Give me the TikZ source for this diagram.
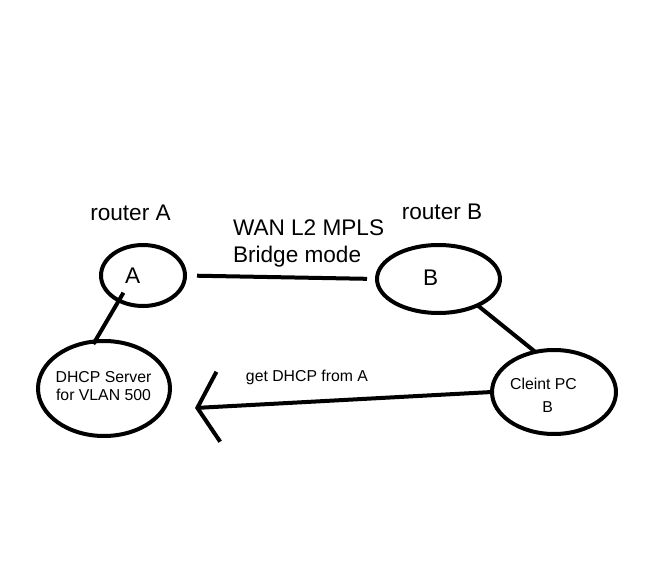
\documentclass[tikz,border=0pt]{standalone}
\usepackage{fontspec}
\setmainfont{Liberation Sans}
\usetikzlibrary{shapes.geometric, arrows.meta}

\begin{document}
\begin{tikzpicture}[x=1pt, y=-1pt, line width=4pt,
    bolla/.style={draw, ellipse, inner sep=0pt, outer sep=0pt},
    grande/.style={anchor=base, inner sep=0pt, font=\fontsize{22.6}{26}\selectfont},
    piccolo/.style={anchor=base, inner sep=0pt, font=\fontsize{15.8}{18}\selectfont}]
    \useasboundingbox (0,0) rectangle (647,561);

    % ellissi
    \node[bolla, minimum width=84pt, minimum height=61pt] (rA) at (143,275.5) {};
    \node[bolla, minimum width=123pt, minimum height=68pt] (rB) at (438.5,279) {};
    \node[bolla, minimum width=132pt, minimum height=95pt] (dhcp) at (104,388.5) {};
    \node[bolla, minimum width=124pt, minimum height=84pt] (pc) at (554,392) {};

    % punta della freccia
    \coordinate (tip) at (195,408);

    % collegamenti
    \draw[shorten <=12pt, shorten >=10pt] (rA.east) -- (rB.west);
    \draw[shorten <=-9pt, shorten >=-3pt] (rA.226) -- (dhcp.101);
    \draw (rB.-34) -- (pc.115);
    \draw[-{Straight Barb[length=21pt, width=70pt]}] (pc.west) -- (tip);

    % etichette
    \node[grande] (labA) at (130.5,220.5) {router A};
    \node[grande] (labB) at (442,220) {router B};
    \node[grande, anchor=base west] (wan) at (231,235.7) {WAN L2 MPLS};
    \node[grande, anchor=base west] (bridge) at (231,262.7) {Bridge mode};
    \node[grande] (txtA) at (132.7,283.3) {A};
    \node[grande] (txtB) at (430.7,285.7) {B};
    \node[piccolo] (srv1) at (103.5,382.3) {DHCP Server};
    \node[piccolo] (srv2) at (103.5,400) {for VLAN 500};
    \node[piccolo] (get) at (307,381.7) {get DHCP from A};
    \node[piccolo] (cli1) at (543.5,389) {Cleint PC};
    \node[piccolo] (cli2) at (547.7,412.7) {B};
\end{tikzpicture}
\end{document}
